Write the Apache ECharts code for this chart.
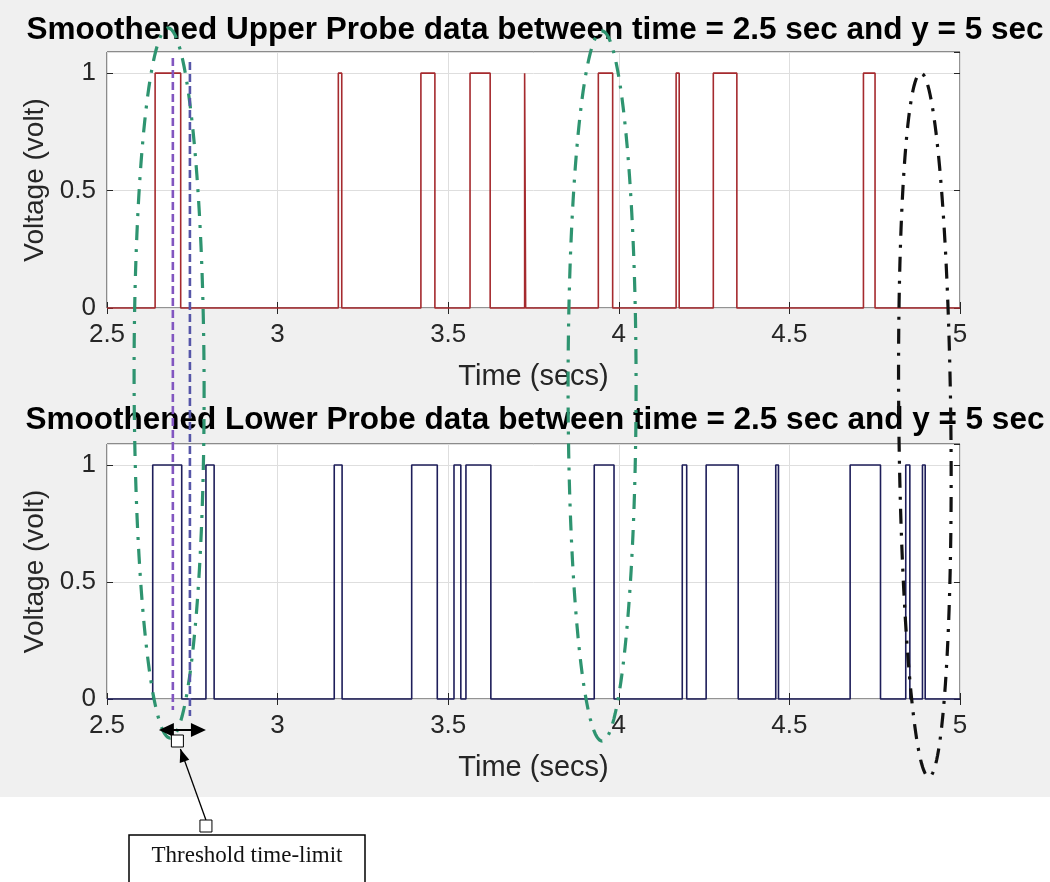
<!DOCTYPE html>
<html><head><meta charset="utf-8">
<script src="https://cdn.jsdelivr.net/npm/echarts@6/dist/echarts.min.js"></script>
<style>
html,body{margin:0;padding:0;background:#fff}
#c{width:1050px;height:882px;background:linear-gradient(#f0f0f0 0,#f0f0f0 797px,#fff 797px,#fff 882px)}
</style>
</head><body><div id="c"></div>
<script>
// ---- data (times in seconds) ----
const upperTitle = 'Smoothened Upper Probe data between time = 2.5 sec and y = 5 sec';
const lowerTitle = 'Smoothened Lower Probe data between time = 2.5 sec and y = 5 sec';
const xName = 'Time (secs)';
const yName = 'Voltage (volt)';
const xTicks = [2.5, 3, 3.5, 4, 4.5, 5];
const yTicks = [0, 0.5, 1];
// upper probe pulses (value 1 between rise and fall)
const upperRise = [2.641, 3.178, 3.420, 3.564, 3.724, 3.940, 4.168, 4.277, 4.717];
const upperFall = [2.716, 3.188, 3.461, 3.623, 3.727, 3.982, 4.177, 4.346, 4.751];
// lower probe pulses
const lowerRise = [2.634, 2.790, 3.166, 3.393, 3.517, 3.552, 3.928, 4.186, 4.256, 4.460, 4.678, 4.841, 4.890];
const lowerFall = [2.719, 2.814, 3.189, 3.468, 3.537, 3.625, 3.986, 4.199, 4.350, 4.468, 4.767, 4.853, 4.898];
// annotation times
const thresholdLines = [2.693, 2.743];
const thresholdArrow = [2.652, 2.790];
const greenEllipses = [2.682, 3.951];
const blackEllipse = [4.897];
const labelText = 'Threshold time-limit';

function pulseTable(rise, fall, t0, t1) {
  const d = [[t0, 0]];
  for (let i = 0; i < rise.length; i++) {
    d.push([rise[i], 0], [rise[i], 1], [fall[i], 1], [fall[i], 0]);
  }
  d.push([t1, 0]);
  return d;
}

const FONT = 'Liberation Sans, Arial, sans-serif';
const AX = '#262626';
const chart = echarts.init(document.getElementById('c'), null, {renderer: 'canvas'});

function xAx(grid, pos) {
  const main = pos === 'bottom';
  return {
    type: 'value', gridIndex: grid, position: pos,
    min: xTicks[0], max: xTicks[xTicks.length - 1], interval: xTicks[1] - xTicks[0],
    name: main ? xName : '', nameLocation: 'middle', nameGap: 54,
    nameTextStyle: {fontFamily: FONT, fontSize: 29, color: AX},
    axisLine: {show: false},
    axisTick: {show: true, inside: true, length: 6, lineStyle: {color: AX}},
    axisLabel: {show: main, fontFamily: FONT, fontSize: 26, color: AX, margin: 14,
      formatter: v => String(v)},
    splitLine: {show: main, lineStyle: {color: '#dedede', width: 1}}
  };
}
function yAx(grid, pos) {
  const main = pos === 'left';
  return {
    type: 'value', gridIndex: grid, position: pos,
    min: yTicks[0], max: 1.09, interval: yTicks[1] - yTicks[0],
    name: main ? yName : '', nameLocation: 'middle', nameGap: 58, nameRotate: 90,
    nameTextStyle: {fontFamily: FONT, fontSize: 28, color: AX},
    axisLine: {show: false},
    axisTick: {show: true, inside: true, length: 6, lineStyle: {color: AX}},
    axisLabel: {show: main, fontFamily: FONT, fontSize: 26, color: AX, margin: 11,
      showMaxLabel: false, formatter: v => (yTicks.indexOf(v) >= 0 ? String(v) : '')},
    splitLine: {show: main, lineStyle: {color: '#dedede', width: 1}}
  };
}

chart.setOption({
  animation: false,
  grid: [
    {left: 107, right: 90, top: 52, height: 256, show: true, backgroundColor: '#fff', borderColor: AX, borderWidth: 1},
    {left: 107, right: 90, top: 444, height: 255, show: true, backgroundColor: '#fff', borderColor: AX, borderWidth: 1}
  ],
  xAxis: [xAx(0, 'bottom'), xAx(0, 'top'), xAx(1, 'bottom'), xAx(1, 'top')],
  yAxis: [yAx(0, 'left'), yAx(0, 'right'), yAx(1, 'left'), yAx(1, 'right')],
  series: [
    {type: 'line', xAxisIndex: 0, yAxisIndex: 0, symbol: 'none', clip: false,
     lineStyle: {color: '#a52a2e', width: 1.6}, data: pulseTable(upperRise, upperFall, 2.5, 5)},
    {type: 'line', xAxisIndex: 2, yAxisIndex: 2, symbol: 'none', clip: false,
     lineStyle: {color: '#1e1e5a', width: 1.6}, data: pulseTable(lowerRise, lowerFall, 2.5, 5)}
  ]
});

// ---- annotations ----
const px = t => chart.convertToPixel({xAxisIndex: 0}, t);
function ellipsePts(cx, cy, a, b, shear) {
  const pts = [];
  const N = 160;
  for (let i = 0; i <= N; i++) {
    const th = 2 * Math.PI * i / N;
    const s = Math.sin(th);
    pts.push([cx + a * Math.cos(th) + shear * s, cy + b * s]);
  }
  return pts;
}
function arrowHead(tip, from, len, half) {
  const dx = tip[0] - from[0], dy = tip[1] - from[1];
  const L = Math.hypot(dx, dy), ux = dx / L, uy = dy / L;
  const bx = tip[0] - ux * len, by = tip[1] - uy * len;
  return [tip, [bx - uy * half, by + ux * half], [bx + uy * half, by - ux * half]];
}

const g = [];
g.push({type: 'text', z: 10, style: {x: 535, y: 30, text: upperTitle, textAlign: 'center', textVerticalAlign: 'middle',
  font: 'bold 31.5px Liberation Sans, Arial, sans-serif', fill: '#000'}});
g.push({type: 'text', z: 10, style: {x: 535, y: 420, text: lowerTitle, textAlign: 'center', textVerticalAlign: 'middle',
  font: 'bold 31.5px Liberation Sans, Arial, sans-serif', fill: '#000'}});

const gStyle = {stroke: '#2e9470', lineWidth: 3.2, fill: null, lineDash: [15, 9, 3, 9]};
g.push({type: 'polyline', z: 100, shape: {points: ellipsePts(px(greenEllipses[0]), 383, 35, 355, 1)}, style: gStyle});
g.push({type: 'polyline', z: 100, shape: {points: ellipsePts(px(greenEllipses[1]), 386, 34, 355, 0)}, style: gStyle});
g.push({type: 'polyline', z: 100, shape: {points: ellipsePts(px(blackEllipse[0]), 425, 26, 352, 4)},
  style: {stroke: '#111', lineWidth: 3.2, fill: null, lineDash: [15, 9, 3, 9]}});

const tcol = ['#8256c0', '#5656a8'];
const tTop = [58, 62], tBot = [710, 716];
thresholdLines.forEach((t, i) => {
  const x = px(t);
  g.push({type: 'line', z: 101, shape: {x1: x, y1: tTop[i], x2: x, y2: tBot[i]},
    style: {stroke: tcol[i], lineWidth: 2.6, lineDash: [8, 4]}});
});

// double arrow
const ay = 730, ax1 = px(thresholdArrow[0]), ax2 = px(thresholdArrow[1]);
g.push({type: 'line', z: 102, shape: {x1: ax1 + 8, y1: ay, x2: ax2 - 8, y2: ay}, style: {stroke: '#000', lineWidth: 2}});
g.push({type: 'polygon', z: 102, shape: {points: arrowHead([ax1, ay], [ax2, ay], 15, 7)}, style: {fill: '#000'}});
g.push({type: 'polygon', z: 102, shape: {points: arrowHead([ax2, ay], [ax1, ay], 15, 7)}, style: {fill: '#000'}});
const sq1 = [(ax1 + ax2) / 2 - 5, 741];
const sq2 = [px(thresholdArrow[1]), 826];
// connector line
const tip = [sq1[0] + 3, 749];
g.push({type: 'line', z: 102, shape: {x1: sq2[0], y1: sq2[1] - 6, x2: tip[0], y2: tip[1]}, style: {stroke: '#000', lineWidth: 1.3}});
g.push({type: 'polygon', z: 103, shape: {points: arrowHead(tip, [sq2[0], sq2[1]], 13, 5)}, style: {fill: '#000'}});
g.push({type: 'rect', z: 104, shape: {x: sq1[0] - 6, y: sq1[1] - 6, width: 12, height: 12}, style: {fill: '#fff', stroke: '#000', lineWidth: 1}});
g.push({type: 'rect', z: 104, shape: {x: sq2[0] - 6, y: sq2[1] - 6, width: 12, height: 12}, style: {fill: '#fff', stroke: '#000', lineWidth: 1}});
// text box
g.push({type: 'rect', z: 104, shape: {x: 129, y: 835, width: 236, height: 60}, style: {fill: '#fff', stroke: '#000', lineWidth: 1.5}});
g.push({type: 'text', z: 105, style: {x: 247, y: 856, text: labelText, textAlign: 'center', textVerticalAlign: 'middle',
  font: '23px Liberation Serif, Times New Roman, serif', fill: '#111'}});

chart.setOption({graphic: g});
</script>
</body></html>
